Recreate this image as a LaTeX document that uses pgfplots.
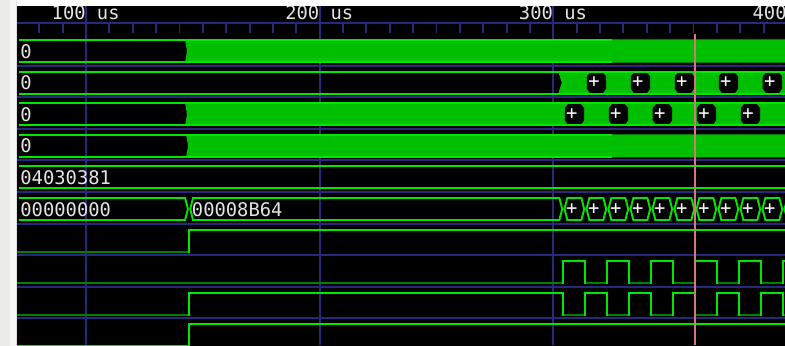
\documentclass[border=0pt]{standalone}
\usepackage{pgfplots}
\pgfplotsset{compat=1.18}
\usepackage{fontspec}
\newfontfamily\wf{DejaVu Sans Mono}
\definecolor{fillG}{RGB}{0,190,0}
\definecolor{lineG}{RGB}{0,232,0}
\definecolor{lowG}{RGB}{0,128,0}
\definecolor{navy}{RGB}{40,40,125}
\definecolor{cursor}{RGB}{215,120,120}
\definecolor{txt}{RGB}{228,228,228}
\definecolor{grayA}{RGB}{236,236,234}
\definecolor{grayB}{RGB}{246,246,245}
\definecolor{grayC}{RGB}{222,222,220}
\tikzset{lbl/.style={anchor=base west, inner sep=0pt, text=txt, font=\wf\fontsize{18.8}{20}\selectfont},
 pl/.style={anchor=center, inner sep=0pt, text=white, font=\wf\fontsize{18.8}{20}\selectfont}}
\begin{document}
\begin{tikzpicture}
\begin{axis}[scale only axis, width=785pt, height=345pt,
  xmin=63.19, xmax=399.17, ymin=0, ymax=345, y dir=reverse,
  hide axis, unbounded coords=jump, clip=true]
% background
\addplot[fill=black, draw=none] coordinates {(60,-5)(405,-5)(405,350)(60,350)} --cycle;
% major grid lines
\addplot[navy, line width=1.9pt] coordinates {(100,0)(100,345)(100,nan)(200,0)(200,345)(200,nan)(300,0)(300,345)};
% ruler
\addplot[navy, line width=2pt] coordinates {(60,23.5)(405,23.5)};
\addplot[navy, line width=1.9pt] coordinates {
(70,23.5)(70,33)(70,nan)(80,23.5)(80,33)(80,nan)(90,23.5)(90,33)(90,nan)
(110,23.5)(110,33)(110,nan)(120,23.5)(120,33)(120,nan)(130,23.5)(130,33)(130,nan)
(140,23.5)(140,33)(140,nan)(150,23.5)(150,33)(150,nan)(160,23.5)(160,33)(160,nan)
(170,23.5)(170,33)(170,nan)(180,23.5)(180,33)(180,nan)(190,23.5)(190,33)(190,nan)
(210,23.5)(210,33)(210,nan)(220,23.5)(220,33)(220,nan)(230,23.5)(230,33)(230,nan)
(240,23.5)(240,33)(240,nan)(250,23.5)(250,33)(250,nan)(260,23.5)(260,33)(260,nan)
(270,23.5)(270,33)(270,nan)(280,23.5)(280,33)(280,nan)(290,23.5)(290,33)(290,nan)
(310,23.5)(310,33)(310,nan)(320,23.5)(320,33)(320,nan)(330,23.5)(330,33)(330,nan)
(340,23.5)(340,33)(340,nan)(350,23.5)(350,33)(350,nan)(360,23.5)(360,33)(360,nan)
(370,23.5)(370,33)(370,nan)(380,23.5)(380,33)(380,nan)(390,23.5)(390,33)(390,nan)
(400,23.5)(400,33)};
% row separators
\addplot[navy, line width=2pt] coordinates {
(60,65.6)(405,65.6)(405,nan)(60,97.2)(405,97.2)(405,nan)(60,128.8)(405,128.8)(405,nan)
(60,160.4)(405,160.4)(405,nan)(60,192)(405,192)(405,nan)(60,223.6)(405,223.6)(405,nan)
(60,255.2)(405,255.2)(405,nan)(60,286.8)(405,286.8)(405,nan)(60,318.4)(405,318.4)};
% dense-transition fills
\addplot[fill=fillG, draw=none] coordinates {(142.4,39.4)(405,39.4)(405,62.6)(142.4,62.6)(143.2,51)} --cycle;
\addplot[fill=fillG, draw=none] coordinates {(302.1,71.1)(405,71.1)(405,94.1)(302.1,94.1)(303.6,82.6)} --cycle;
\addplot[fill=fillG, draw=none] coordinates {(142.4,102.7)(405,102.7)(405,125.7)(142.4,125.7)(143.2,114.2)} --cycle;
\addplot[fill=fillG, draw=none] coordinates {(142.8,134.3)(405,134.3)(405,157.3)(142.8,157.3)(143.7,145.8)} --cycle;
% short-value boxes, row 2
\addplot[fill=black, draw=none] coordinates {(314.32,76.6)(315.72,72.6)(321.23,72.6)(322.63,76.6)(322.63,88.6)(321.23,93.1)(315.72,93.1)(314.32,88.6)} --cycle;
\addplot[fill=black, draw=none] coordinates {(333.15,76.6)(334.55,72.6)(340.06,72.6)(341.46,76.6)(341.46,88.6)(340.06,93.1)(334.55,93.1)(333.15,88.6)} --cycle;
\addplot[fill=black, draw=none] coordinates {(351.98,76.6)(353.38,72.6)(358.90,72.6)(360.30,76.6)(360.30,88.6)(358.90,93.1)(353.38,93.1)(351.98,88.6)} --cycle;
\addplot[fill=black, draw=none] coordinates {(370.81,76.6)(372.21,72.6)(377.73,72.6)(379.13,76.6)(379.13,88.6)(377.73,93.1)(372.21,93.1)(370.81,88.6)} --cycle;
\addplot[fill=black, draw=none] coordinates {(389.64,76.6)(391.04,72.6)(396.56,72.6)(397.96,76.6)(397.96,88.6)(396.56,93.1)(391.04,93.1)(389.64,88.6)} --cycle;
% short-value boxes, row 3
\addplot[fill=black, draw=none] coordinates {(304.90,108.2)(306.30,104.2)(311.82,104.2)(313.22,108.2)(313.22,120.2)(311.82,124.7)(306.30,124.7)(304.90,120.2)} --cycle;
\addplot[fill=black, draw=none] coordinates {(323.73,108.2)(325.13,104.2)(330.65,104.2)(332.05,108.2)(332.05,120.2)(330.65,124.7)(325.13,124.7)(323.73,120.2)} --cycle;
\addplot[fill=black, draw=none] coordinates {(342.56,108.2)(343.96,104.2)(349.48,104.2)(350.88,108.2)(350.88,120.2)(349.48,124.7)(343.96,124.7)(342.56,120.2)} --cycle;
\addplot[fill=black, draw=none] coordinates {(361.40,108.2)(362.80,104.2)(368.31,104.2)(369.71,108.2)(369.71,120.2)(368.31,124.7)(362.80,124.7)(361.40,120.2)} --cycle;
\addplot[fill=black, draw=none] coordinates {(380.23,108.2)(381.63,104.2)(387.14,104.2)(388.54,108.2)(388.54,120.2)(387.14,124.7)(381.63,124.7)(380.23,120.2)} --cycle;
% bus outlines
\addplot[lineG, line width=1.9pt] coordinates {(71.3,40)(325.1,40)(325.1,nan)(71.3,62)(325.1,62)};
\addplot[lineG, line width=1.9pt] coordinates {(71.3,71.6)(405,71.6)(405,nan)(71.3,93.6)(405,93.6)};
\addplot[lineG, line width=1.9pt] coordinates {(71.3,103.2)(405,103.2)(405,nan)(71.3,125.2)(405,125.2)};
\addplot[lineG, line width=1.9pt] coordinates {(71.3,134.8)(325.1,134.8)(325.1,nan)(71.3,156.8)(325.1,156.8)};
\addplot[lineG, line width=1.9pt] coordinates {(71.3,166.4)(405,166.4)(405,nan)(71.3,188.4)(405,188.4)};
\addplot[lineG, line width=1.9pt] coordinates {
(71.3,198)(142.4,198)(143.6,209)(142.4,220)(71.3,220)(71.3,nan)
(144.6,209)(145.8,198)(302.6,198)(303.8,209)(302.6,220)(145.8,220)(144.6,209)(144.6,nan)
(304.80,209)(306.00,198)(312.02,198)(313.22,209)(312.02,220)(306.00,220)(304.80,209)(304.8,nan)
(314.22,209)(315.42,198)(321.43,198)(322.63,209)(321.43,220)(315.42,220)(314.22,209)(314.2,nan)
(323.63,209)(324.83,198)(330.85,198)(332.05,209)(330.85,220)(324.83,220)(323.63,209)(323.6,nan)
(333.05,209)(334.25,198)(340.26,198)(341.46,209)(340.26,220)(334.25,220)(333.05,209)(333.0,nan)
(342.46,209)(343.66,198)(349.68,198)(350.88,209)(349.68,220)(343.66,220)(342.46,209)(342.4,nan)
(351.88,209)(353.08,198)(359.10,198)(360.30,209)(359.10,220)(353.08,220)(351.88,209)(351.8,nan)
(361.30,209)(362.50,198)(368.51,198)(369.71,209)(368.51,220)(362.50,220)(361.30,209)(361.3,nan)
(370.71,209)(371.91,198)(377.93,198)(379.13,209)(377.93,220)(371.91,220)(370.71,209)(370.7,nan)
(380.13,209)(381.33,198)(387.34,198)(388.54,209)(387.34,220)(381.33,220)(380.13,209)(380.1,nan)
(389.54,209)(390.74,198)(396.76,198)(397.96,209)(396.76,220)(390.74,220)(389.54,209)(389.5,nan)
(410,198)(400.16,198)(398.96,209)(400.16,220)(410,220)};
% digital signals
\addplot[const plot, lineG, line width=1.9pt] coordinates {(63,251.6)(144.1,229.6)(405,229.6)};
\addplot[const plot, lineG, line width=1.9pt] coordinates {(63,283.2)(304.30,261.2)(313.72,283.2)(323.13,261.2)(332.55,283.2)(341.96,261.2)(351.38,283.2)(360.80,261.2)(370.21,283.2)(379.63,261.2)(389.04,283.2)(398.46,261.2)(405,261.2)};
\addplot[const plot, lineG, line width=1.9pt] coordinates {(63,314.8)(144.1,292.8)(304.30,314.8)(313.72,292.8)(323.13,314.8)(332.55,292.8)(341.96,314.8)(351.38,292.8)(360.80,314.8)(370.21,292.8)(379.63,314.8)(389.04,292.8)(398.46,314.8)(405,314.8)};
\addplot[const plot, lineG, line width=1.9pt] coordinates {(63,346.4)(144.1,324.4)(405,324.4)};
% low levels
\addplot[lowG, line width=1.9pt] coordinates {(63,251.6)(143.7,251.6)};
\addplot[lowG, line width=1.9pt] coordinates {(63,283.2)(303.9,283.2)(304,nan)(314.1,283.2)(322.73,283.2)(322.8,nan)(332.95,283.2)(341.56,283.2)(341.6,nan)(351.78,283.2)(360.4,283.2)(360.5,nan)(370.61,283.2)(379.23,283.2)(379.3,nan)(389.44,283.2)(398.06,283.2)};
\addplot[lowG, line width=1.9pt] coordinates {(63,314.8)(143.7,314.8)(143.8,nan)(304.7,314.8)(313.32,314.8)(313.4,nan)(323.53,314.8)(332.15,314.8)(332.2,nan)(342.36,314.8)(350.98,314.8)(351.0,nan)(361.2,314.8)(369.81,314.8)(369.9,nan)(380.03,314.8)(388.64,314.8)(388.7,nan)(398.86,314.8)(405,314.8)};
% cursor
\addplot[cursor, line width=1.7pt] coordinates {(360.7,34)(360.7,345)};
% labels
\node[lbl] at (axis cs:85.23,20) {100 us};
\node[lbl] at (axis cs:185.23,20) {200 us};
\node[lbl] at (axis cs:285.23,20) {300 us};
\node[lbl] at (axis cs:385.23,20) {400 us};
\node[lbl] at (axis cs:71.84,58) {0};
\node[lbl] at (axis cs:71.84,89.6) {0};
\node[lbl] at (axis cs:71.84,121.2) {0};
\node[lbl] at (axis cs:71.84,152.8) {0};
\node[lbl] at (axis cs:71.84,184.4) {04030381};
\node[lbl] at (axis cs:71.84,216) {00000000};
\node[lbl] at (axis cs:145.25,216) {00008B64};
\node[pl] at (axis cs:317.38,82.6) {+};
\node[pl] at (axis cs:336.21,82.6) {+};
\node[pl] at (axis cs:355.04,82.6) {+};
\node[pl] at (axis cs:373.87,82.6) {+};
\node[pl] at (axis cs:392.70,82.6) {+};
\node[pl] at (axis cs:307.96,114.2) {+};
\node[pl] at (axis cs:326.79,114.2) {+};
\node[pl] at (axis cs:345.62,114.2) {+};
\node[pl] at (axis cs:364.46,114.2) {+};
\node[pl] at (axis cs:383.29,114.2) {+};
\node[pl] at (axis cs:307.91,209) {+};
\node[pl] at (axis cs:317.33,209) {+};
\node[pl] at (axis cs:326.74,209) {+};
\node[pl] at (axis cs:336.16,209) {+};
\node[pl] at (axis cs:345.57,209) {+};
\node[pl] at (axis cs:354.99,209) {+};
\node[pl] at (axis cs:364.41,209) {+};
\node[pl] at (axis cs:373.82,209) {+};
\node[pl] at (axis cs:383.24,209) {+};
\node[pl] at (axis cs:392.65,209) {+};
% window chrome
\addplot[fill=white, draw=none] coordinates {(60,-5)(405,-5)(405,6)(60,6)} --cycle;
\addplot[fill=grayA, draw=none] coordinates {(60,-5)(67.47,-5)(67.47,350)(60,350)} --cycle;
\addplot[fill=grayB, draw=none] coordinates {(67.47,-5)(69.92,-5)(69.92,350)(67.47,350)} --cycle;
\addplot[fill=grayC, draw=none] coordinates {(69.92,-5)(70.6,-5)(70.6,350)(69.92,350)} --cycle;
\end{axis}
\pgfresetboundingbox
\useasboundingbox (current axis.south west) rectangle (current axis.north east);
\end{tikzpicture}
\end{document}
